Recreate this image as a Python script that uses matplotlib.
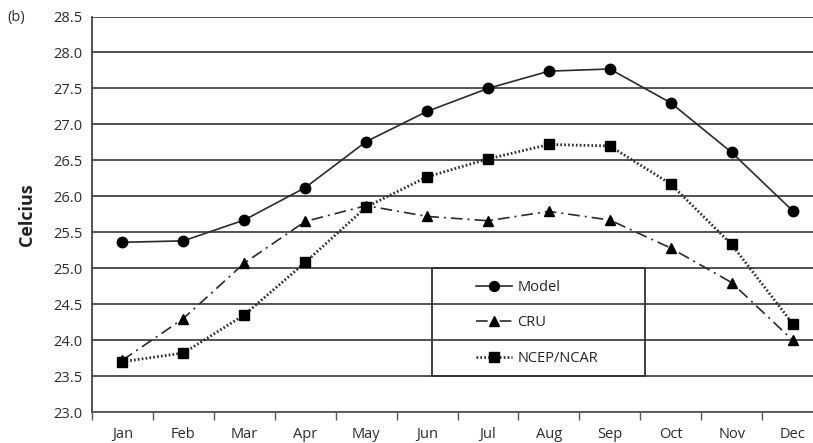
import matplotlib
matplotlib.use("Agg")
import matplotlib.pyplot as plt
from matplotlib.patches import Rectangle
import numpy as np

months = ["Jan", "Feb", "Mar", "Apr", "May", "Jun", "Jul", "Aug", "Sep", "Oct", "Nov", "Dec"]
model = [25.36, 25.38, 25.67, 26.12, 26.76, 27.18, 27.50, 27.74, 27.77, 27.30, 26.61, 25.80]
cru = [23.72, 24.30, 25.07, 25.65, 25.87, 25.72, 25.66, 25.79, 25.67, 25.28, 24.80, 24.00]
ncep = [23.70, 23.82, 24.35, 25.08, 25.85, 26.27, 26.52, 26.72, 26.70, 26.17, 25.33, 24.23]
labels = ["Model", "CRU", "NCEP/NCAR"]
yticks = np.arange(23.0, 28.51, 0.5)

plt.rcParams['font.family'] = ['Open Sans', 'DejaVu Sans']

W, H = 813, 443
fig = plt.figure(figsize=(W / 100, H / 100), dpi=100)
left, right, top, bottom = 92, 823, 16.5, 412
ax = fig.add_axes([left / W, 1 - bottom / H, (right - left) / W, (bottom - top) / H])

FS = 10.5
x = np.arange(len(months))
lc = '#2a2a2a'
h1, = ax.plot(x, model, color=lc, lw=1.2, marker='o', ms=7.5, mfc='black', mec='black', zorder=5)
h2, = ax.plot(x, cru, color=lc, lw=1.2, linestyle=(0, (7, 3, 1.2, 3)), marker='^', ms=7.5,
              mfc='black', mec='black', zorder=5)
h3, = ax.plot(x, ncep, color=lc, lw=2.0, linestyle=(0, (0.6, 0.8)), marker='s', ms=7.5,
              mfc='black', mec='black', zorder=5)

ax.set_xlim(-0.5, len(months) - 0.5)
ax.set_ylim(23.0, 28.5)
ax.set_yticks(yticks)
ax.set_yticklabels([f"{v:.1f}" for v in yticks], fontsize=FS, color='#2b2b2b')
ax.yaxis.grid(True, color='#444444', lw=1.3)
ax.set_axisbelow(True)
ax.tick_params(axis='y', length=0, pad=7)

ax.set_xticks(x)
ax.set_xticklabels(months, fontsize=FS, color='#2b2b2b')
ax.set_xticks(np.arange(-0.5, len(months)), minor=True)
ax.tick_params(axis='x', which='major', length=0, pad=10.5)
ax.tick_params(axis='x', which='minor', length=6, width=1, color='#555555')

for s in ['top', 'right']:
    ax.spines[s].set_visible(False)
ax.spines['left'].set_color('#444444')
ax.spines['left'].set_linewidth(1.3)
ax.spines['bottom'].set_color('#555555')
ax.spines['bottom'].set_linewidth(1.3)

# legend box
ax.add_patch(Rectangle((5.08, 23.5), 3.5, 1.5, fill=False, edgecolor='#333333', lw=1.3, zorder=3))
leg = ax.legend([h1, h2, h3], labels, loc='center left', bbox_to_anchor=(5.80, 24.24),
                bbox_transform=ax.transData, frameon=False, fontsize=FS, handlelength=2.5,
                handletextpad=0.35, labelspacing=1.42, borderpad=0, borderaxespad=0,
                markerscale=0.95)
for t in leg.get_texts():
    t.set_color('#222222')

fig.text(27 / W, 1 - 214.7 / H, "Celcius", rotation=90, ha='center', va='center',
         fontsize=13, fontweight='bold', color='#222222')
fig.text(7 / W, 1 - 17 / H, "(b)", ha='left', va='center', fontsize=FS, color='#2b2b2b')

fig.savefig("out.png", dpi=100)
